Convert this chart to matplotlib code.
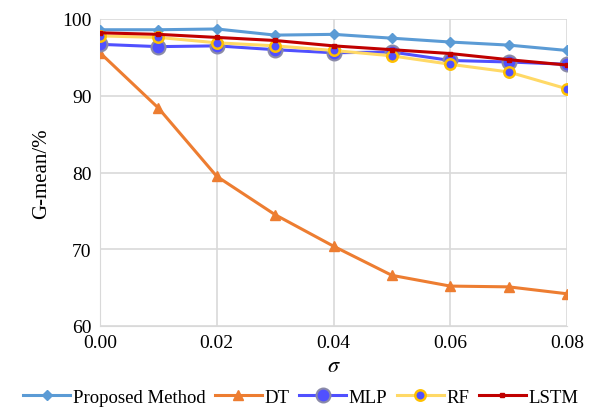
import matplotlib
matplotlib.use("Agg")
import matplotlib.pyplot as plt

sigma = [0.00, 0.01, 0.02, 0.03, 0.04, 0.05, 0.06, 0.07, 0.08]
proposed = [98.6, 98.6, 98.7, 97.9, 98.0, 97.5, 97.0, 96.6, 95.9]
dt = [95.6, 88.4, 79.5, 74.5, 70.4, 66.6, 65.2, 65.1, 64.2]
mlp = [96.7, 96.4, 96.5, 96.0, 95.6, 95.7, 94.6, 94.4, 94.1]
rf = [97.8, 97.6, 96.9, 96.5, 95.9, 95.2, 94.1, 93.1, 90.9]
lstm = [98.2, 98.0, 97.6, 97.2, 96.5, 96.0, 95.5, 94.7, 94.0]
xticks = [0.00, 0.02, 0.04, 0.06, 0.08]
yticks = [60, 70, 80, 90, 100]

plt.rcParams['font.family'] = ['Liberation Serif', 'DejaVu Serif']
plt.rcParams['mathtext.fontset'] = 'stix'
fig = plt.figure(figsize=(5.9, 4.14), dpi=100)
ax = fig.add_axes([100/590, 1-327/414, 467/590, 307/414])

ax.plot(sigma, proposed, color='#5B9BD5', lw=2.2, marker='D', ms=5.5, label='Proposed Method', zorder=3)
ax.plot(sigma, dt, color='#ED7D31', lw=2.2, marker='^', ms=7, label='DT', zorder=3)
ax.plot(sigma, mlp, color='#5050FF', lw=2.2, marker='o', ms=10, mfc='#5050FF', mec='#8A8AA8', mew=1.5, label='MLP', zorder=3)
ax.plot(sigma, rf, color='#FFD966', lw=2.2, marker='o', ms=7.5, mfc='#5050FF', mec='#FFC000', mew=1.8, label='RF', zorder=4)
ax.plot(sigma, lstm, color='#C00000', lw=2.2, marker='s', ms=3, label='LSTM', zorder=5)

ax.set_xlim(0, 0.08)
ax.set_ylim(60, 100)
ax.set_xticks(xticks)
ax.set_xticklabels([f"{v:.2f}" for v in xticks])
ax.set_yticks(yticks)
ax.grid(True, color='#D9D9D9', lw=1.2)
ax.set_axisbelow(True)
for s in ['top', 'right']:
    ax.spines[s].set_visible(False)
ax.spines['left'].set_color('#D9D9D9')
ax.spines['bottom'].set_color('#D9D9D9')
ax.tick_params(length=0, labelsize=14, pad=6)
ax.set_ylabel('G-mean/%', fontsize=15, labelpad=8)
ax.set_xlabel(r'$\sigma$', fontsize=16, labelpad=4)

fig.legend(loc='lower center', bbox_to_anchor=(0.51, -0.01), ncol=5, frameon=False,
           fontsize=13.5, handlelength=2.5, handletextpad=0.15, columnspacing=0.5,
           borderaxespad=0.2)
fig.savefig('out.png', dpi=100)
